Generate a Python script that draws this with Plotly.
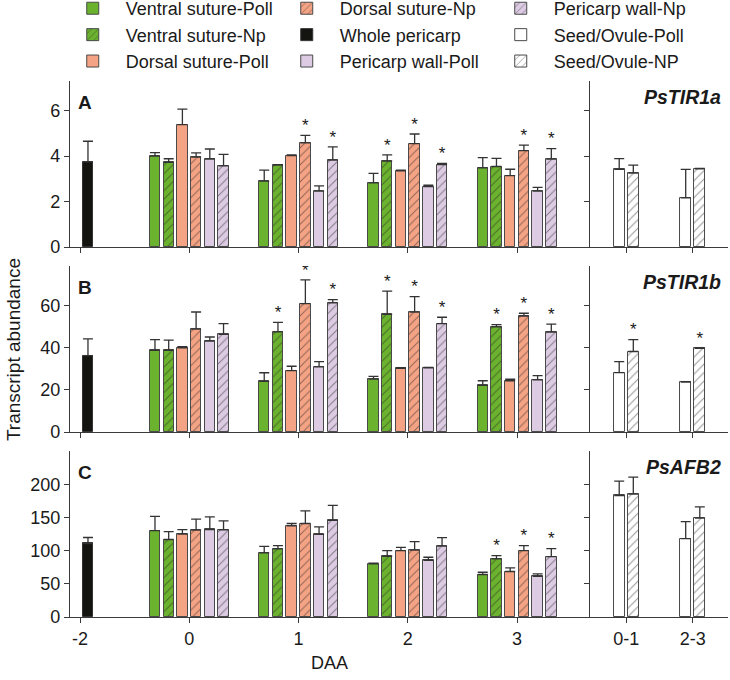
import plotly.graph_objects as go

# ---------------- data ----------------
DAA_LABELS = ["-2", "0", "1", "2", "3"]        # x categories (left panels)
WHOLE_DAA = ["-2"]
TISSUE_DAA = ["0", "1", "2", "3"]
SEED_LABELS = ["0-1", "2-3"]                    # x categories (right panels)
GENES = ["PsTIR1a", "PsTIR1b", "PsAFB2"]
PANELS = ["A", "B", "C"]
SERIES = ["Ventral suture-Poll", "Ventral suture-Np", "Dorsal suture-Poll",
          "Dorsal suture-Np", "Pericarp wall-Poll", "Pericarp wall-Np"]
SEED_SERIES = ["Seed/Ovule-Poll", "Seed/Ovule-NP"]

# PsTIR1a (A)
a_whole = [3.75]; a_whole_err = [0.9]
a_vs_poll = [4.0, 2.9, 2.82, 3.48]; a_vs_poll_err = [0.15, 0.48, 0.42, 0.45]
a_vs_np = [3.72, 3.6, 3.78, 3.54]; a_vs_np_err = [0.16, 0.02, 0.27, 0.36]
a_ds_poll = [5.38, 4.02, 3.35, 3.14]; a_ds_poll_err = [0.68, 0.03, 0.03, 0.28]
a_ds_np = [3.95, 4.58, 4.55, 4.24]; a_ds_np_err = [0.19, 0.33, 0.42, 0.24]
a_pw_poll = [3.87, 2.46, 2.66, 2.46]; a_pw_poll_err = [0.44, 0.23, 0.06, 0.16]
a_pw_np = [3.57, 3.82, 3.62, 3.86]; a_pw_np_err = [0.5, 0.58, 0.06, 0.47]
a_seed_poll = [3.42, 2.16]; a_seed_poll_err = [0.47, 1.25]
a_seed_np = [3.25, 3.44]; a_seed_np_err = [0.35, 0.02]
a_vs_np_star = [0, 0, 1, 0]
a_ds_np_star = [0, 1, 1, 1]
a_pw_np_star = [0, 1, 1, 1]
a_seed_np_star = [0, 0]

# PsTIR1b (B)
b_whole = [36.3]; b_whole_err = [8.0]
b_vs_poll = [38.9, 24.1, 25.2, 22.2]; b_vs_poll_err = [5.1, 4.1, 1.3, 2.2]
b_vs_np = [38.9, 47.6, 56.0, 50.0]; b_vs_np_err = [4.8, 4.6, 11.0, 1.1]
b_ds_poll = [40.0, 29.2, 30.3, 24.4]; b_ds_poll_err = [0.6, 2.1, 0.3, 0.7]
b_ds_np = [49.0, 61.1, 57.0, 55.2]; b_ds_np_err = [8.1, 11.3, 7.4, 1.3]
b_pw_poll = [43.3, 31.0, 30.5, 24.8]; b_pw_poll_err = [1.9, 2.5, 0.3, 2.0]
b_pw_np = [46.5, 61.4, 51.6, 47.5]; b_pw_np_err = [5.1, 1.6, 3.0, 3.8]
b_seed_poll = [28.3, 23.7]; b_seed_poll_err = [5.2, 0.3]
b_seed_np = [38.3, 39.8]; b_seed_np_err = [5.7, 0.2]
b_vs_np_star = [0, 1, 1, 1]
b_ds_np_star = [0, 1, 1, 1]
b_pw_np_star = [0, 1, 1, 1]
b_seed_np_star = [1, 1]

# PsAFB2 (C)
c_whole = [110.7]; c_whole_err = [9.0]
c_vs_poll = [130.0, 96.5, 80.0, 64.0]; c_vs_poll_err = [21.6, 10.0, 1.0, 3.4]
c_vs_np = [116.7, 102.6, 91.5, 87.5]; c_vs_np_err = [12.0, 5.0, 8.6, 5.0]
c_ds_poll = [125.0, 137.3, 100.0, 68.5]; c_ds_poll_err = [6.6, 3.5, 5.0, 5.5]
c_ds_np = [130.8, 140.8, 100.6, 100.0]; c_ds_np_err = [16.6, 19.0, 13.0, 7.5]
c_pw_poll = [131.8, 124.3, 85.5, 61.4]; c_pw_poll_err = [19.0, 11.4, 4.5, 3.5]
c_pw_np = [131.3, 145.4, 106.6, 91.0]; c_pw_np_err = [13.5, 22.6, 13.0, 12.0]
c_seed_poll = [183.0, 118.0]; c_seed_poll_err = [21.7, 25.7]
c_seed_np = [185.0, 148.8]; c_seed_np_err = [25.6, 17.0]
c_vs_np_star = [0, 0, 0, 1]
c_ds_np_star = [0, 0, 0, 1]
c_pw_np_star = [0, 0, 0, 1]
c_seed_np_star = [0, 0]

Y_RANGES = [[0, 7.3], [0, 79], [0, 250]]
Y_TICKS = [[0, 2, 4, 6], [0, 20, 40, 60], [0, 50, 100, 150, 200]]

NO_STAR = [0, 0, 0, 0]
gene_data = [
    dict(whole=(a_whole, a_whole_err),
         series=[(a_vs_poll, a_vs_poll_err, NO_STAR), (a_vs_np, a_vs_np_err, a_vs_np_star),
                 (a_ds_poll, a_ds_poll_err, NO_STAR), (a_ds_np, a_ds_np_err, a_ds_np_star),
                 (a_pw_poll, a_pw_poll_err, NO_STAR), (a_pw_np, a_pw_np_err, a_pw_np_star)],
         seed=[(a_seed_poll, a_seed_poll_err, [0, 0]), (a_seed_np, a_seed_np_err, a_seed_np_star)]),
    dict(whole=(b_whole, b_whole_err),
         series=[(b_vs_poll, b_vs_poll_err, NO_STAR), (b_vs_np, b_vs_np_err, b_vs_np_star),
                 (b_ds_poll, b_ds_poll_err, NO_STAR), (b_ds_np, b_ds_np_err, b_ds_np_star),
                 (b_pw_poll, b_pw_poll_err, NO_STAR), (b_pw_np, b_pw_np_err, b_pw_np_star)],
         seed=[(b_seed_poll, b_seed_poll_err, [0, 0]), (b_seed_np, b_seed_np_err, b_seed_np_star)]),
    dict(whole=(c_whole, c_whole_err),
         series=[(c_vs_poll, c_vs_poll_err, NO_STAR), (c_vs_np, c_vs_np_err, c_vs_np_star),
                 (c_ds_poll, c_ds_poll_err, NO_STAR), (c_ds_np, c_ds_np_err, c_ds_np_star),
                 (c_pw_poll, c_pw_poll_err, NO_STAR), (c_pw_np, c_pw_np_err, c_pw_np_star)],
         seed=[(c_seed_poll, c_seed_poll_err, [0, 0]), (c_seed_np, c_seed_np_err, c_seed_np_star)]),
]

# ---------------- styles ----------------
FONT = "Liberation Sans, Arial, Helvetica, sans-serif"
TXT = "#1a1a1a"
AX = "#3a3a3a"
GREEN, SALMON, LILAC = "#6bb22e", "#f5a385", "#dccbe3"
SER_FILL = [GREEN, GREEN, SALMON, SALMON, LILAC, LILAC]
SER_HATCH = [False, True, False, True, False, True]
SEED_HATCH = [False, True]
LEGEND_RANK = {"Ventral suture-Poll": 1, "Dorsal suture-Np": 2, "Pericarp wall-Np": 3,
               "Ventral suture-Np": 4, "Whole pericarp": 5, "Seed/Ovule-Poll": 6,
               "Dorsal suture-Poll": 7, "Pericarp wall-Poll": 8, "Seed/Ovule-NP": 9}

PITCH, BW = 0.1255, 0.095          # left panel bar pitch / width (category units)
SPITCH, SBW = 0.212, 0.165         # seed panel bar pitch / width
WHOLE_SHIFT = 0.073

Y_DOMAINS = [[0.6903, 1.0], [0.3451, 0.6549], [0.0, 0.3097]]
XL_DOM, XR_DOM = [0.0, 0.7903], [0.7903, 1.0]
XL_RANGE, XR_RANGE = [-0.0915, 4.668], [-0.545, 1.53]

XPOS = {lab: i for i, lab in enumerate(DAA_LABELS)}
SPOS = {lab: i for i, lab in enumerate(SEED_LABELS)}


def pattern(hatched, fill):
    if hatched:
        return dict(shape="/", fgcolor="#222222", bgcolor=fill, size=6,
                    solidity=0.16, fillmode="overlay")
    return dict(shape="")


def err(e):
    return dict(type="data", array=e, arrayminus=[0] * len(e), symmetric=False,
                color="#333333", thickness=1.3, width=5)


fig = go.Figure()
for r, g in enumerate(gene_data):
    xl, yl = f"x{2*r+1}", f"y{2*r+1}"
    xr, yr = f"x{2*r+2}", f"y{2*r+2}"
    first = (r == 0)
    star_x, star_y = [], []
    # whole pericarp
    wv, we = g["whole"]
    fig.add_trace(go.Bar(
        x=[XPOS[d] for d in WHOLE_DAA], y=wv, name="Whole pericarp", xaxis=xl, yaxis=yl,
        width=BW, offset=WHOLE_SHIFT - BW / 2,
        marker=dict(color="#141410", line=dict(color="#333333", width=1)),
        error_y=err(we), showlegend=first, legendrank=LEGEND_RANK["Whole pericarp"]))
    # tissue series
    tx = [XPOS[d] for d in TISSUE_DAA]
    for i, (vals, errs, stars) in enumerate(g["series"]):
        off = (i - 2.5) * PITCH
        fig.add_trace(go.Bar(
            x=tx, y=vals, name=SERIES[i], xaxis=xl, yaxis=yl,
            width=BW, offset=off - BW / 2,
            marker=dict(color=SER_FILL[i], line=dict(color="#4a4a4a", width=1),
                        pattern=pattern(SER_HATCH[i], SER_FILL[i])),
            error_y=err(errs), showlegend=first, legendrank=LEGEND_RANK[SERIES[i]]))
        for d, v, e, s in zip(tx, vals, errs, stars):
            if s:
                star_x.append(d + off); star_y.append(v + e)
    fig.add_trace(go.Scatter(x=star_x, y=star_y, mode="text", text=["*"] * len(star_x),
                             textposition="top center", xaxis=xl, yaxis=yl,
                             textfont=dict(size=17, color=TXT, family=FONT),
                             showlegend=False, hoverinfo="skip"))
    # seed / ovule
    sxp = [SPOS[s] for s in SEED_LABELS]
    sx, sy = [], []
    for j, (vals, errs, stars) in enumerate(g["seed"]):
        off = (j - 0.5) * SPITCH
        fig.add_trace(go.Bar(
            x=sxp, y=vals, name=SEED_SERIES[j], xaxis=xr, yaxis=yr,
            width=SBW, offset=off - SBW / 2,
            marker=dict(color="#ffffff", line=dict(color="#4a4a4a", width=1),
                        pattern=pattern(SEED_HATCH[j], "#ffffff")),
            error_y=err(errs), showlegend=first, legendrank=LEGEND_RANK[SEED_SERIES[j]]))
        for d, v, e, s in zip(sxp, vals, errs, stars):
            if s:
                sx.append(d + off); sy.append(v + e)
    fig.add_trace(go.Scatter(x=sx, y=sy, mode="text", text=["*"] * len(sx),
                             textposition="top center", xaxis=xr, yaxis=yr,
                             textfont=dict(size=17, color=TXT, family=FONT),
                             showlegend=False, hoverinfo="skip"))

axis_common = dict(showline=True, linecolor=AX, linewidth=1.2, ticks="outside",
                   ticklen=5, tickwidth=1.3, tickcolor=AX, showgrid=False, zeroline=False,
                   tickfont=dict(size=18, color=TXT, family=FONT), fixedrange=True)
layout_axes = {}
for r in range(3):
    il, ir = 2 * r + 1, 2 * r + 2
    bottom = (r == 2)
    nl = "" if il == 1 else str(il)
    layout_axes[f"xaxis{nl}"] = dict(axis_common, domain=XL_DOM, range=XL_RANGE,
                                     anchor=f"y{il}", tickvals=list(range(len(DAA_LABELS))),
                                     ticktext=DAA_LABELS, showticklabels=bottom)
    layout_axes[f"xaxis{ir}"] = dict(axis_common, domain=XR_DOM, range=XR_RANGE,
                                     anchor=f"y{ir}", tickvals=list(range(len(SEED_LABELS))),
                                     ticktext=SEED_LABELS, showticklabels=bottom)
    layout_axes[f"yaxis{nl}"] = dict(axis_common, domain=Y_DOMAINS[r], range=Y_RANGES[r],
                                     anchor=f"x{il}", tickvals=Y_TICKS[r])
    layout_axes[f"yaxis{ir}"] = dict(axis_common, domain=Y_DOMAINS[r], range=Y_RANGES[r],
                                     anchor=f"x{ir}", tickvals=Y_TICKS[r], showticklabels=False)

annotations = []
for r in range(3):
    il, ir = 2 * r + 1, 2 * r + 2
    xl = "x" if il == 1 else f"x{il}"
    yl = "y" if il == 1 else f"y{il}"
    annotations.append(dict(text=f"<b>{PANELS[r]}</b>", xref=f"{xl} domain", yref=f"{yl} domain",
                            x=0.029, y=0.873, xanchor="center", yanchor="middle", showarrow=False,
                            font=dict(size=19, color=TXT, family=FONT)))
    annotations.append(dict(text=f"<b><i>{GENES[r]}</i></b>", xref=f"x{ir} domain",
                            yref=f"y{ir} domain", x=0.965, y=0.905, xanchor="right",
                            yanchor="middle", showarrow=False,
                            font=dict(size=19.5, color=TXT, family=FONT)))
annotations.append(dict(text="Transcript abundance", xref="paper", yref="paper",
                        x=-0.0866, y=0.498, textangle=-90, xanchor="center", yanchor="middle",
                        showarrow=False, font=dict(size=19, color=TXT, family=FONT)))
annotations.append(dict(text="DAA", xref="paper", yref="paper", x=0.395, y=-0.0858,
                        xanchor="center", yanchor="middle", showarrow=False,
                        font=dict(size=18, color=TXT, family=FONT)))

fig.update_layout(
    width=730, height=680,
    margin=dict(l=70, r=2, t=81, b=63, autoexpand=False),
    plot_bgcolor="white", paper_bgcolor="white",
    barmode="overlay", bargap=0,
    font=dict(family=FONT, color=TXT, size=18),
    legend=dict(orientation="h", xref="paper", yref="paper",
                x=-0.0156, y=1.1697, xanchor="left", yanchor="top",
                itemwidth=56, entrywidth=143, entrywidthmode="pixels", traceorder="normal",
                font=dict(size=18, color=TXT, family=FONT), bgcolor="rgba(0,0,0,0)"),
    annotations=annotations,
    **layout_axes,
)

fig.write_html("out.html", config={"displayModeBar": False},
               post_script="document.body.style.margin='0';")
